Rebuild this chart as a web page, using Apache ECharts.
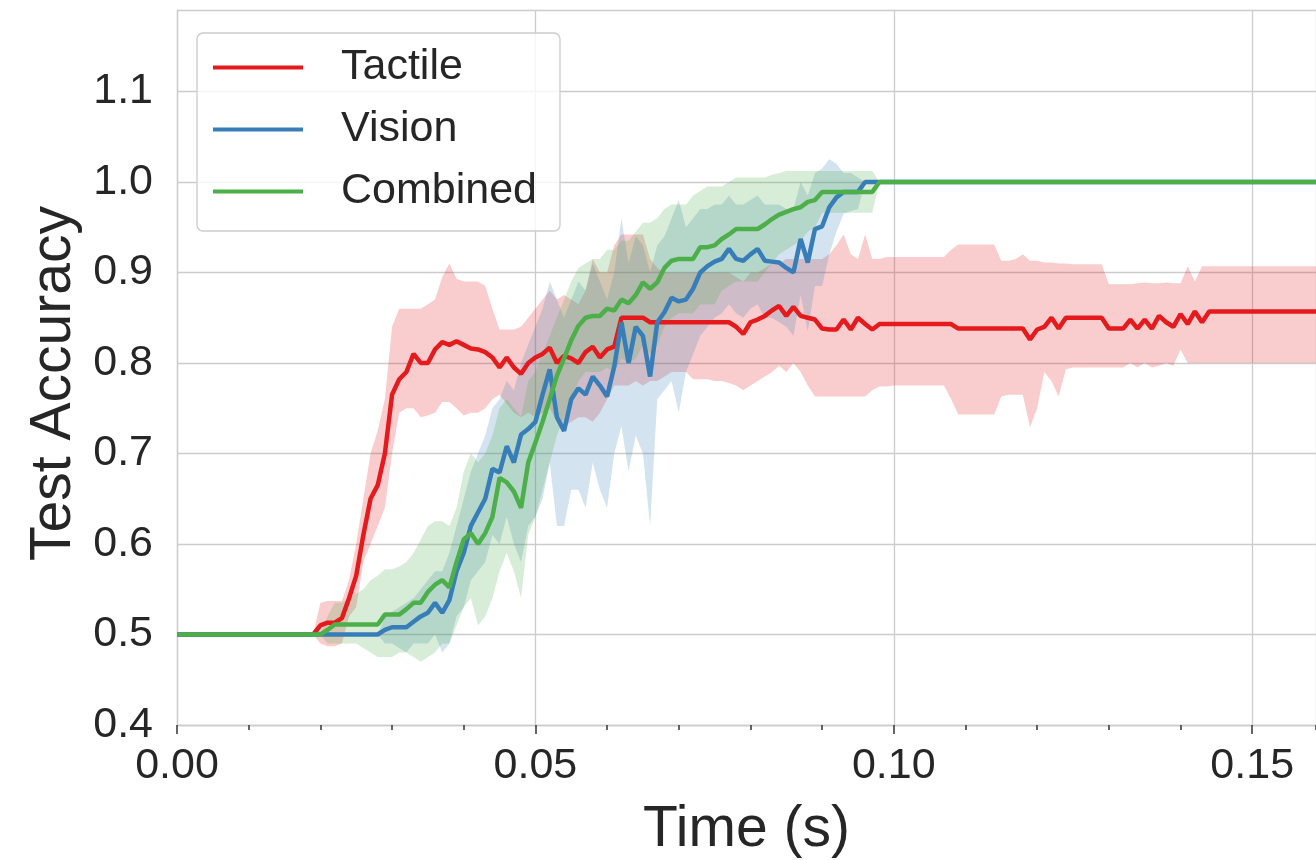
<!DOCTYPE html>
<html>
<head>
<meta charset="utf-8">
<script src="https://cdn.jsdelivr.net/npm/echarts@6/dist/echarts.min.js"></script>
<style>
  html, body { margin: 0; padding: 0; background: #fff; }
  #chart { width: 1316px; height: 860px; }
</style>
</head>
<body>
<div id="chart"></div>
<script>
// sample times (s), one row per ms decade
const times = [0, 0.019,
  0.020, 0.021, 0.022, 0.023, 0.024, 0.025, 0.026, 0.027, 0.028, 0.029,
  0.030, 0.031, 0.032, 0.033, 0.034, 0.035, 0.036, 0.037, 0.038, 0.039,
  0.040, 0.041, 0.042, 0.043, 0.044, 0.045, 0.046, 0.047, 0.048, 0.049,
  0.050, 0.051, 0.052, 0.053, 0.054, 0.055, 0.056, 0.057, 0.058, 0.059,
  0.060, 0.061, 0.062, 0.063, 0.064, 0.065, 0.066, 0.067, 0.068, 0.069,
  0.070, 0.071, 0.072, 0.073, 0.074, 0.075, 0.076, 0.077, 0.078, 0.079,
  0.080, 0.081, 0.082, 0.083, 0.084, 0.085, 0.086, 0.087, 0.088, 0.089,
  0.090, 0.091, 0.092, 0.093, 0.094, 0.095, 0.096, 0.097, 0.098, 0.099,
  0.100, 0.101, 0.102, 0.103, 0.104, 0.105, 0.106, 0.107, 0.108, 0.109,
  0.110, 0.111, 0.112, 0.113, 0.114, 0.115, 0.116, 0.117, 0.118, 0.119,
  0.120, 0.121, 0.122, 0.123, 0.124, 0.125, 0.126, 0.127, 0.128, 0.129,
  0.130, 0.131, 0.132, 0.133, 0.134, 0.135, 0.136, 0.137, 0.138, 0.139,
  0.140, 0.141, 0.142, 0.143, 0.144, 0.145, 0.146, 0.147, 0.148, 0.149,
  0.150, 0.151, 0.152, 0.153, 0.154, 0.155, 0.156, 0.157, 0.158, 0.159,
]

const tactileMean = [0.5, 0.5,
  0.51, 0.513, 0.513, 0.518, 0.54, 0.565, 0.61, 0.65, 0.665, 0.70,
  0.765, 0.782, 0.79, 0.81, 0.80, 0.80, 0.815, 0.823, 0.82, 0.824,
  0.82, 0.816, 0.815, 0.812, 0.806, 0.795, 0.806, 0.795, 0.788, 0.80,
  0.806, 0.81, 0.817, 0.80, 0.808, 0.805, 0.80, 0.812, 0.818, 0.806,
  0.815, 0.818, 0.85, 0.85, 0.85, 0.85, 0.845, 0.845, 0.845, 0.845,
  0.845, 0.845, 0.845, 0.845, 0.845, 0.845, 0.845, 0.845, 0.84, 0.832,
  0.845, 0.848, 0.852, 0.858, 0.863, 0.852, 0.862, 0.852, 0.85, 0.848,
  0.838, 0.837, 0.837, 0.848, 0.837, 0.85, 0.843, 0.837, 0.843, 0.843,
  0.843, 0.843, 0.843, 0.843, 0.843, 0.843, 0.843, 0.843, 0.843, 0.838,
  0.838, 0.838, 0.838, 0.838, 0.838, 0.838, 0.838, 0.838, 0.838, 0.826,
  0.837, 0.84, 0.85, 0.838, 0.85, 0.85, 0.85, 0.85, 0.85, 0.85,
  0.838, 0.838, 0.838, 0.848, 0.838, 0.848, 0.838, 0.852, 0.845, 0.84,
  0.854, 0.843, 0.857, 0.845, 0.857, 0.857, 0.857, 0.857, 0.857, 0.857,
  0.857, 0.857, 0.857, 0.857, 0.857, 0.857, 0.857, 0.857, 0.857, 0.857,
]
const tactileHigh = [0.5, 0.5,
  0.535, 0.537, 0.537, 0.537, 0.56, 0.60, 0.65, 0.70, 0.725, 0.76,
  0.84, 0.86, 0.86, 0.86, 0.86, 0.865, 0.87, 0.895, 0.91, 0.893,
  0.89, 0.89, 0.89, 0.885, 0.86, 0.837, 0.837, 0.837, 0.84, 0.85,
  0.86, 0.87, 0.88, 0.87, 0.875, 0.87, 0.865, 0.88, 0.915, 0.90,
  0.90, 0.93, 0.942, 0.942, 0.942, 0.942, 0.915, 0.905, 0.90, 0.90,
  0.90, 0.90, 0.90, 0.90, 0.90, 0.90, 0.90, 0.90, 0.895, 0.89,
  0.90, 0.90, 0.905, 0.91, 0.91, 0.915, 0.915, 0.915, 0.915, 0.915,
  0.915, 0.92, 0.93, 0.942, 0.92, 0.915, 0.942, 0.915, 0.915, 0.917,
  0.917, 0.917, 0.917, 0.917, 0.917, 0.917, 0.917, 0.917, 0.925, 0.931,
  0.931, 0.931, 0.931, 0.931, 0.931, 0.913, 0.913, 0.915, 0.92, 0.913,
  0.913, 0.911, 0.911, 0.91, 0.91, 0.909, 0.909, 0.909, 0.909, 0.909,
  0.887, 0.887, 0.887, 0.887, 0.888, 0.889, 0.888, 0.888, 0.889, 0.888,
  0.888, 0.907, 0.89, 0.907, 0.907, 0.907, 0.907, 0.907, 0.907, 0.907,
  0.907, 0.907, 0.907, 0.907, 0.907, 0.907, 0.907, 0.907, 0.907, 0.907,
]
const tactileLow = [0.5, 0.5,
  0.49, 0.487, 0.487, 0.49, 0.52, 0.53, 0.58, 0.60, 0.62, 0.64,
  0.70, 0.745, 0.75, 0.75, 0.74, 0.742, 0.745, 0.757, 0.757, 0.75,
  0.742, 0.745, 0.745, 0.75, 0.76, 0.765, 0.755, 0.745, 0.74, 0.745,
  0.74, 0.745, 0.75, 0.735, 0.73, 0.735, 0.74, 0.74, 0.735, 0.745,
  0.76, 0.775, 0.775, 0.775, 0.78, 0.775, 0.78, 0.78, 0.785, 0.79,
  0.79, 0.79, 0.782, 0.782, 0.782, 0.78, 0.78, 0.778, 0.775, 0.77,
  0.775, 0.78, 0.785, 0.79, 0.797, 0.79, 0.80, 0.79, 0.775, 0.763,
  0.763, 0.763, 0.763, 0.763, 0.763, 0.763, 0.763, 0.77, 0.774, 0.774,
  0.775, 0.775, 0.775, 0.775, 0.775, 0.775, 0.775, 0.775, 0.76, 0.743,
  0.743, 0.743, 0.743, 0.743, 0.743, 0.763, 0.765, 0.765, 0.765, 0.729,
  0.75, 0.79, 0.78, 0.763, 0.793, 0.795, 0.795, 0.795, 0.795, 0.795,
  0.795, 0.795, 0.795, 0.80, 0.795, 0.80, 0.795, 0.797, 0.80, 0.797,
  0.815, 0.80, 0.80, 0.80, 0.80, 0.80, 0.80, 0.80, 0.80, 0.80,
  0.80, 0.80, 0.80, 0.80, 0.80, 0.80, 0.80, 0.80, 0.80, 0.80,
]

const visionMean = [0.5, 0.5,
  0.5, 0.5, 0.5, 0.5, 0.5, 0.5, 0.5, 0.5, 0.5, 0.505,
  0.508, 0.508, 0.508, 0.514, 0.52, 0.524, 0.535, 0.524, 0.538, 0.57,
  0.59, 0.62, 0.635, 0.65, 0.683, 0.679, 0.708, 0.69, 0.721, 0.727,
  0.735, 0.765, 0.793, 0.74, 0.725, 0.76, 0.772, 0.765, 0.785, 0.775,
  0.763, 0.796, 0.845, 0.80, 0.84, 0.83, 0.785, 0.845, 0.856, 0.872,
  0.868, 0.87, 0.882, 0.90, 0.907, 0.912, 0.915, 0.926, 0.915, 0.913,
  0.92, 0.926, 0.913, 0.912, 0.911, 0.905, 0.90, 0.937, 0.911, 0.948,
  0.951, 0.972, 0.983, 0.989, 0.989, 0.989, 1, 1, 1, 1,
  1, 1, 1, 1, 1, 1, 1, 1, 1, 1,
  1, 1, 1, 1, 1, 1, 1, 1, 1, 1,
  1, 1, 1, 1, 1, 1, 1, 1, 1, 1,
  1, 1, 1, 1, 1, 1, 1, 1, 1, 1,
  1, 1, 1, 1, 1, 1, 1, 1, 1, 1,
  1, 1, 1, 1, 1, 1, 1, 1, 1, 1,
]
const visionHigh = [0.5, 0.5,
  0.5, 0.5, 0.5, 0.5, 0.5, 0.5, 0.5, 0.5, 0.5, 0.52,
  0.525, 0.53, 0.535, 0.54, 0.55, 0.56, 0.57, 0.57, 0.59, 0.62,
  0.65, 0.68, 0.70, 0.72, 0.75, 0.76, 0.78, 0.77, 0.80, 0.82,
  0.84, 0.86, 0.89, 0.87, 0.85, 0.87, 0.89, 0.88, 0.91, 0.89,
  0.87, 0.90, 0.96, 0.91, 0.94, 0.93, 0.90, 0.93, 0.94, 0.96,
  0.98, 0.95, 0.96, 0.97, 0.97, 0.975, 0.975, 0.985, 0.975, 0.975,
  0.98, 0.985, 0.975, 0.975, 0.975, 0.97, 0.97, 1.0, 0.985, 1.01,
  1.015, 1.025, 1.02, 1.01, 1.01, 1.005, 1, 1, 1, 1,
  1, 1, 1, 1, 1, 1, 1, 1, 1, 1,
  1, 1, 1, 1, 1, 1, 1, 1, 1, 1,
  1, 1, 1, 1, 1, 1, 1, 1, 1, 1,
  1, 1, 1, 1, 1, 1, 1, 1, 1, 1,
  1, 1, 1, 1, 1, 1, 1, 1, 1, 1,
  1, 1, 1, 1, 1, 1, 1, 1, 1, 1,
]
const visionLow = [0.5, 0.5,
  0.5, 0.5, 0.5, 0.5, 0.5, 0.5, 0.5, 0.5, 0.5, 0.49,
  0.49, 0.485, 0.48, 0.49, 0.49, 0.49, 0.50, 0.48, 0.49, 0.52,
  0.53, 0.56, 0.57, 0.58, 0.61, 0.60, 0.63, 0.60, 0.58, 0.62,
  0.63, 0.65, 0.69, 0.62, 0.62, 0.66, 0.66, 0.64, 0.69, 0.66,
  0.64, 0.70, 0.73, 0.68, 0.72, 0.70, 0.62, 0.76, 0.77, 0.78,
  0.745, 0.79, 0.81, 0.83, 0.84, 0.85, 0.855, 0.865, 0.855, 0.85,
  0.86, 0.865, 0.85, 0.85, 0.845, 0.84, 0.83, 0.875, 0.835, 0.885,
  0.885, 0.92, 0.945, 0.965, 0.968, 0.97, 1, 1, 1, 1,
  1, 1, 1, 1, 1, 1, 1, 1, 1, 1,
  1, 1, 1, 1, 1, 1, 1, 1, 1, 1,
  1, 1, 1, 1, 1, 1, 1, 1, 1, 1,
  1, 1, 1, 1, 1, 1, 1, 1, 1, 1,
  1, 1, 1, 1, 1, 1, 1, 1, 1, 1,
  1, 1, 1, 1, 1, 1, 1, 1, 1, 1,
]

const combinedMean = [0.5, 0.5,
  0.5, 0.505, 0.511, 0.511, 0.511, 0.511, 0.511, 0.511, 0.511, 0.522,
  0.522, 0.522, 0.528, 0.535, 0.535, 0.547, 0.555, 0.56, 0.552, 0.58,
  0.605, 0.612, 0.60, 0.612, 0.63, 0.673, 0.668, 0.658, 0.64, 0.69,
  0.712, 0.735, 0.76, 0.786, 0.805, 0.825, 0.841, 0.85, 0.852, 0.852,
  0.86, 0.858, 0.87, 0.866, 0.875, 0.889, 0.882, 0.889, 0.905, 0.913,
  0.915, 0.915, 0.915, 0.928, 0.928, 0.93, 0.937, 0.942, 0.948, 0.948,
  0.948, 0.948, 0.953, 0.959, 0.964, 0.967, 0.97, 0.972, 0.978, 0.98,
  0.989, 0.989, 0.989, 0.989, 0.989, 0.989, 0.989, 0.989, 1, 1,
  1, 1, 1, 1, 1, 1, 1, 1, 1, 1,
  1, 1, 1, 1, 1, 1, 1, 1, 1, 1,
  1, 1, 1, 1, 1, 1, 1, 1, 1, 1,
  1, 1, 1, 1, 1, 1, 1, 1, 1, 1,
  1, 1, 1, 1, 1, 1, 1, 1, 1, 1,
  1, 1, 1, 1, 1, 1, 1, 1, 1, 1,
]
const combinedHigh = [0.5, 0.5,
  0.5, 0.52, 0.535, 0.535, 0.54, 0.545, 0.55, 0.56, 0.565, 0.572,
  0.572, 0.575, 0.58, 0.59, 0.605, 0.62, 0.625, 0.625, 0.62, 0.64,
  0.68, 0.70, 0.69, 0.70, 0.72, 0.75, 0.76, 0.75, 0.74, 0.78,
  0.79, 0.81, 0.83, 0.85, 0.87, 0.89, 0.905, 0.91, 0.915, 0.915,
  0.925, 0.925, 0.935, 0.935, 0.945, 0.955, 0.955, 0.96, 0.97, 0.975,
  0.975, 0.975, 0.985, 0.99, 0.995, 0.995, 0.995, 1.0, 1.005, 1.005,
  1.005, 1.005, 1.005, 1.008, 1.01, 1.012, 1.012, 1.012, 1.012, 1.012,
  1.012, 1.012, 1.012, 1.012, 1.012, 1.012, 1.012, 1.012, 1, 1,
  1, 1, 1, 1, 1, 1, 1, 1, 1, 1,
  1, 1, 1, 1, 1, 1, 1, 1, 1, 1,
  1, 1, 1, 1, 1, 1, 1, 1, 1, 1,
  1, 1, 1, 1, 1, 1, 1, 1, 1, 1,
  1, 1, 1, 1, 1, 1, 1, 1, 1, 1,
  1, 1, 1, 1, 1, 1, 1, 1, 1, 1,
]
const combinedLow = [0.5, 0.5,
  0.5, 0.49, 0.49, 0.49, 0.49, 0.49, 0.485, 0.48, 0.475, 0.475,
  0.475, 0.48, 0.48, 0.475, 0.47, 0.475, 0.48, 0.49, 0.49, 0.51,
  0.53, 0.54, 0.51, 0.52, 0.54, 0.57, 0.59, 0.57, 0.54, 0.61,
  0.63, 0.66, 0.69, 0.72, 0.74, 0.76, 0.78, 0.79, 0.79, 0.79,
  0.795, 0.79, 0.805, 0.80, 0.805, 0.82, 0.81, 0.82, 0.84, 0.85,
  0.855, 0.855, 0.855, 0.865, 0.865, 0.865, 0.88, 0.885, 0.89, 0.89,
  0.89, 0.89, 0.90, 0.91, 0.92, 0.925, 0.93, 0.935, 0.945, 0.95,
  0.966, 0.966, 0.966, 0.966, 0.966, 0.966, 0.966, 0.966, 1, 1,
  1, 1, 1, 1, 1, 1, 1, 1, 1, 1,
  1, 1, 1, 1, 1, 1, 1, 1, 1, 1,
  1, 1, 1, 1, 1, 1, 1, 1, 1, 1,
  1, 1, 1, 1, 1, 1, 1, 1, 1, 1,
  1, 1, 1, 1, 1, 1, 1, 1, 1, 1,
  1, 1, 1, 1, 1, 1, 1, 1, 1, 1,
]

const xTickValues = [0, 0.05, 0.1, 0.15]
const yTickValues = [0.4, 0.5, 0.6, 0.7, 0.8, 0.9, 1.0, 1.1]

const textColor = '#262626'
const gridColor = '#cccccc'
const fontFamily = 'Liberation Sans'

const red = '#e41a1c'
const blue = '#377eb8'
const green = '#4daf4a'

const toPairs = (ys) => times.map((t, i) => [t, ys[i]])

// shaded spread between lo and hi, projected through the grid's own scales
const band = (lo, hi, color) => ({
  type: 'custom',
  silent: true,
  clip: true,
  data: [[times[0], lo[0]]],
  renderItem: (params, api) => {
    const upper = times.map((t, i) => api.coord([t, hi[i]]))
    const lower = times.map((t, i) => api.coord([t, lo[i]])).reverse()

    return {
      type: 'polygon',
      shape: { points: upper.concat(lower) },
      style: { fill: color, opacity: 0.22 },
    }
  },
})
const meanLine = (name, ys, color) => ({
  name, type: 'line', data: toPairs(ys), symbol: 'none',
  color, lineStyle: { width: 4.5, color }, emphasis: { disabled: true },
})

const chart = echarts.init(document.getElementById('chart'))

chart.setOption({
  animation: false,
  backgroundColor: '#fff',
  textStyle: { fontFamily },
  grid: { left: 177, right: 0, top: 10, bottom: 135, outerBoundsMode: 'none' },
  legend: {
    data: ['Tactile', 'Vision', 'Combined'],
    orient: 'vertical',
    left: 197,
    top: 33,
    padding: [13, 23, 18, 16],
    itemGap: 19,
    itemWidth: 90,
    itemHeight: 4,
    icon: 'rect',
    backgroundColor: 'rgba(255,255,255,0.8)',
    borderColor: gridColor,
    borderWidth: 1.3,
    borderRadius: 6,
    textStyle: { fontFamily, fontSize: 43, color: textColor, padding: [0, 0, 0, 33] },
  },
  xAxis: [
    {
      type: 'value',
      min: 0,
      max: 0.1589,
      interval: 0.05,
      name: 'Time (s)',
      nameLocation: 'middle',
      nameGap: 77,
      nameTextStyle: { fontFamily, fontSize: 57, color: textColor },
      axisLine: { show: true, lineStyle: { color: gridColor, width: 1.3 } },
      axisTick: { show: true, length: 9, lineStyle: { color: '#333', width: 1.5 } },
      axisLabel: {
        fontFamily, fontSize: 43, color: textColor, margin: 20,
        showMaxLabel: false,
        formatter: (v) => (xTickValues.some((t) => Math.abs(t - v) < 1e-9) ? v.toFixed(2) : ''),
      },
      splitLine: { show: true, lineStyle: { color: gridColor, width: 1.3 } },
    },
    {
      // minor ticks every 0.01
      type: 'value',
      position: 'bottom',
      min: 0,
      max: 0.1589,
      interval: 0.01,
      axisLine: { show: false },
      axisTick: { show: true, length: 5, lineStyle: { color: '#333', width: 1.5 } },
      axisLabel: { show: false },
      splitLine: { show: false },
    },
  ],
  yAxis: {
    type: 'value',
    min: 0.4,
    max: 1.19,
    interval: 0.1,
    name: 'Test Accuracy',
    nameLocation: 'middle',
    nameGap: 92,
    nameTextStyle: { fontFamily, fontSize: 57, color: textColor, padding: [0, 32, 0, 0] },
    axisLine: { show: true, lineStyle: { color: gridColor, width: 1.3 } },
    axisTick: { show: false },
    axisLabel: {
      fontFamily, fontSize: 43, color: textColor, margin: 24,
      showMaxLabel: false,
      formatter: (v) => (yTickValues.some((t) => Math.abs(t - v) < 1e-9) ? v.toFixed(1) : ''),
    },
    splitLine: { show: true, lineStyle: { color: gridColor, width: 1.3 } },
  },
  series: [
    band(tactileLow, tactileHigh, red),
    meanLine('Tactile', tactileMean, red),
    band(visionLow, visionHigh, blue),
    meanLine('Vision', visionMean, blue),
    band(combinedLow, combinedHigh, green),
    meanLine('Combined', combinedMean, green),
  ],
})
</script>
</body>
</html>
